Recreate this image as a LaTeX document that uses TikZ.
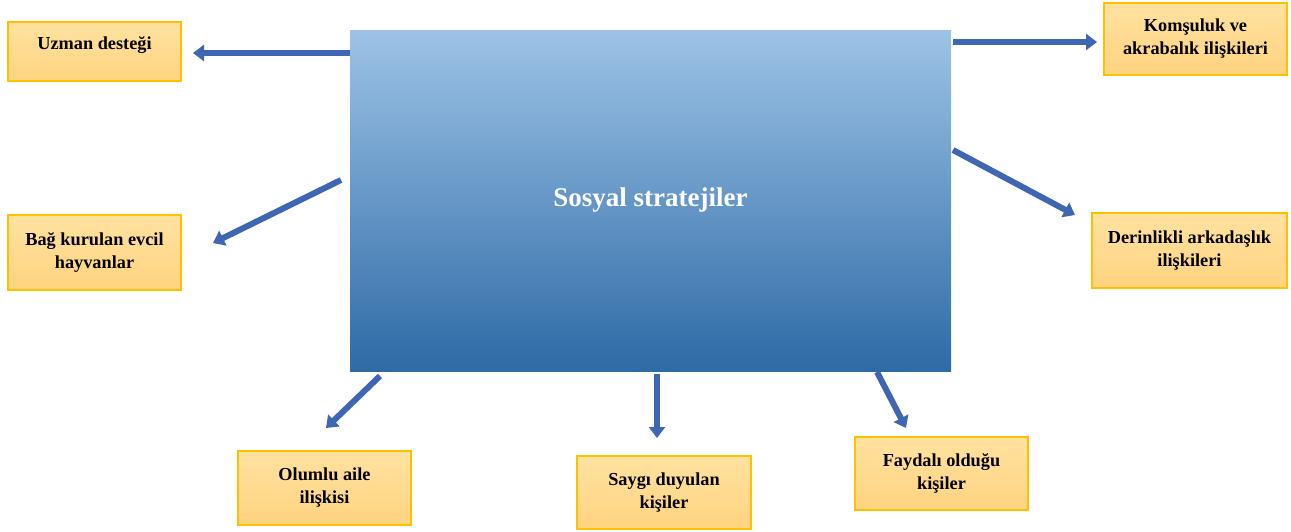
\documentclass[tikz,border=0pt]{standalone}
\usepackage{fontspec}
\setmainfont{Liberation Serif}
\usetikzlibrary{arrows.meta}
\definecolor{okmavi}{HTML}{3F66B2}
\definecolor{altin}{HTML}{FFC000}

\begin{document}
\begin{tikzpicture}[x=1pt, y=-1pt,
  main/.style = {minimum width=601pt, minimum height=341pt, top color={rgb,255:red,157;green,195;blue,230}, bottom color={rgb,255:red,46;green,106;blue,166}, draw=none, font=\fontsize{27}{30}\selectfont\bfseries, text=white},
  kutu/.style = {draw=altin, line width=1.5pt, top color={rgb,255:red,255;green,226;blue,160}, bottom color={rgb,255:red,255;green,211;blue,128}, align=center, font=\fontsize{18.3}{23}\selectfont\bfseries, inner sep=0pt},
  ok/.style = {draw=okmavi, line width=6pt, -{Triangle[width=16pt,length=11pt]}}]
\useasboundingbox (0,0) rectangle (1291,531);
\node[main] (s) at (650.5,200.5) {Sosyal stratejiler};
\node[kutu, minimum width=173pt, minimum height=59pt, text depth=17pt] (1) at (94.5,51.5) {Uzman desteği};
\node[kutu, minimum width=183pt, minimum height=72pt] (2) at (1195.5,39) {Komşuluk ve\\akrabalık ilişkileri};
\node[kutu, minimum width=173pt, minimum height=75pt] (3) at (94.5,252.5) {Bağ kurulan evcil\\hayvanlar};
\node[kutu, minimum width=195pt, minimum height=75pt] (4) at (1189.5,250.5) {Derinlikli arkadaşlık\\ilişkileri};
\node[kutu, minimum width=173pt, minimum height=74pt] (5) at (324.5,488) {Olumlu aile\\ilişkisi};
\node[kutu, minimum width=174pt, minimum height=73pt] (6) at (664,492.5) {Saygı duyulan\\kişiler};
\node[kutu, minimum width=173pt, minimum height=73pt] (7) at (941.5,473.5) {Faydalı olduğu\\kişiler};
% ok uclari
\coordinate (u1) at (350,53);  \coordinate (v1) at (193,53);
\coordinate (u2) at (953,42);  \coordinate (v2) at (1097,42);
\coordinate (u3) at (341,180); \coordinate (v3) at (213,243);
\coordinate (u4) at (953,150); \coordinate (v4) at (1075,215);
\coordinate (u5) at (380,376); \coordinate (v5) at (326,428);
\coordinate (u6) at (657,374); \coordinate (v6) at (657,438);
\coordinate (u7) at (877,372); \coordinate (v7) at (906,428);
\draw[ok] (u1) -- (v1); \draw[ok] (u2) -- (v2); \draw[ok] (u3) -- (v3); \draw[ok] (u4) -- (v4);
\draw[ok] (u5) -- (v5); \draw[ok] (u6) -- (v6); \draw[ok] (u7) -- (v7);
\end{tikzpicture}
\end{document}
